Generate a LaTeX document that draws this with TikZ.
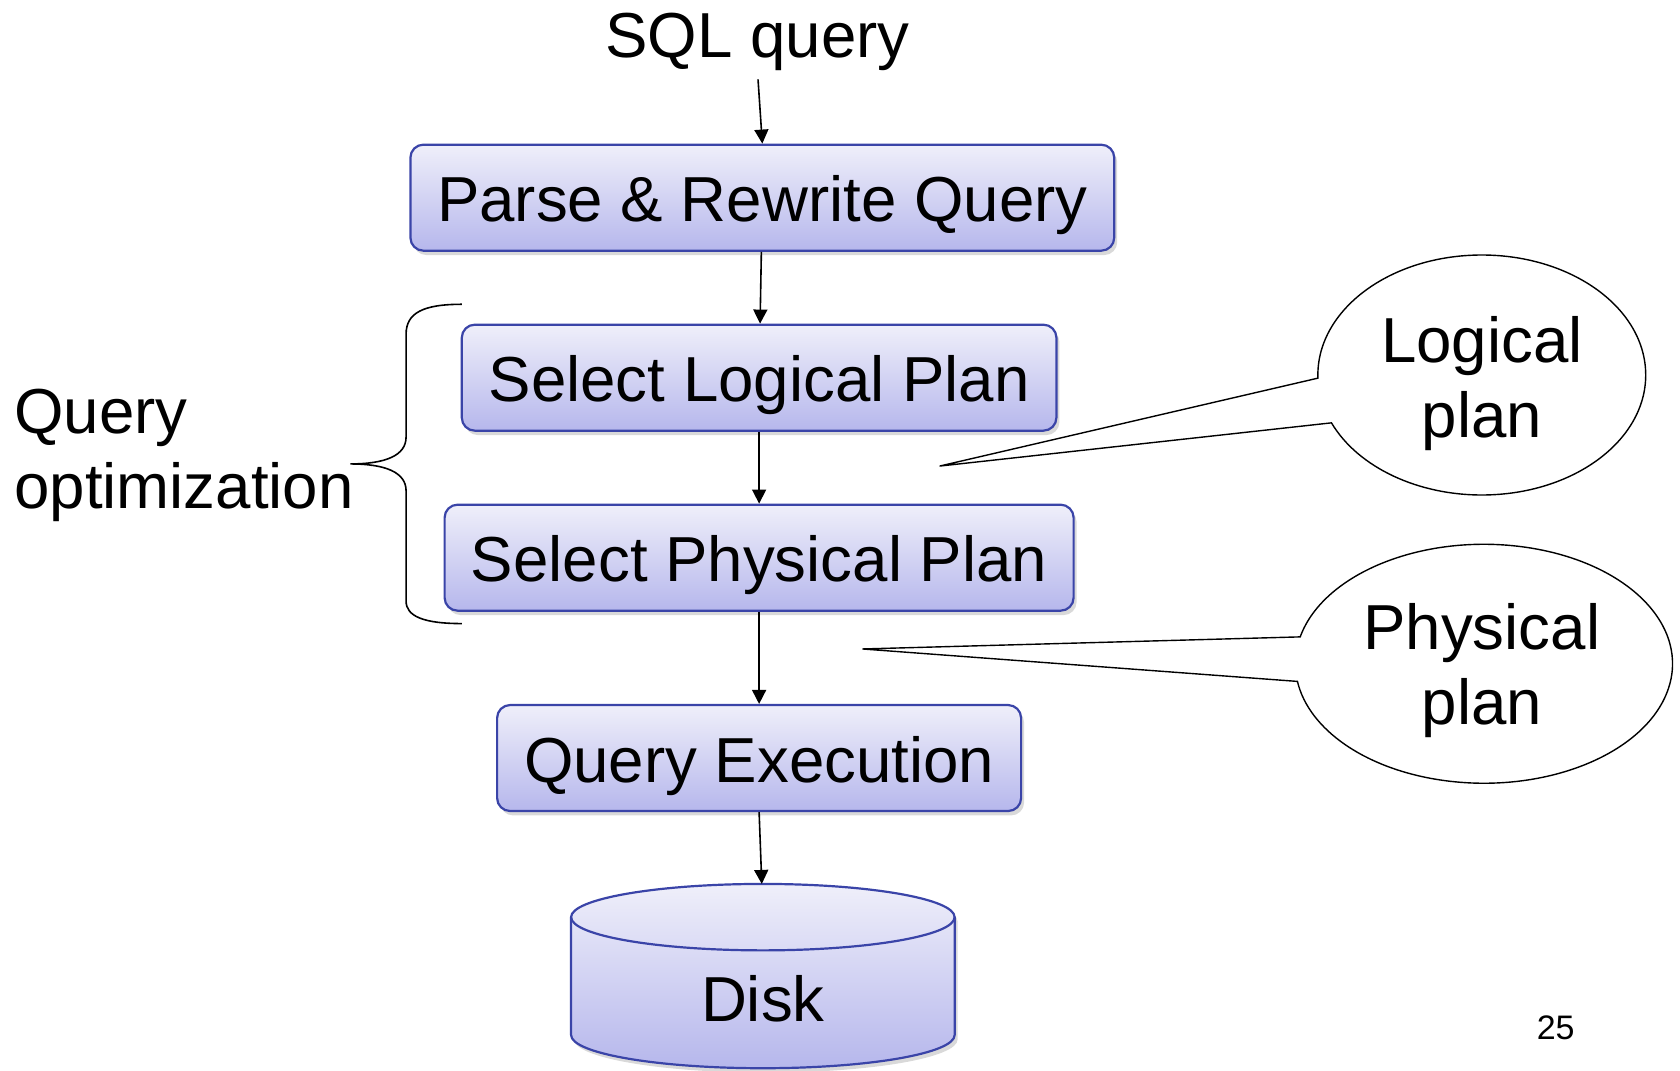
\documentclass[tikz,border=0pt]{standalone}
\usepackage{fontspec}
\setmainfont{Liberation Sans}
\usetikzlibrary{arrows.meta,shadows,calc}
\definecolor{bordc}{HTML}{3A44A8}
\definecolor{topc}{HTML}{EFEFFA}
\definecolor{botc}{HTML}{B6B7EC}
\begin{document}
\begin{tikzpicture}[x=0.5357pt,y=-0.5357pt,
  txt/.style={font=\fontsize{31.8}{37.5}\selectfont, inner sep=0pt},
  stepbox/.style={draw=bordc, line width=1.1pt, rounded corners=6.5pt,
    top color=topc, bottom color=botc, minimum height=53pt, inner sep=0pt,
    text height=30pt, text depth=6pt,
    font=\fontsize{31.8}{37.5}\selectfont,
    drop shadow={shadow xshift=1.5pt, shadow yshift=-2.2pt, opacity=0.3}},
  arr/.style={-{Triangle[length=7pt,width=7pt]}, line width=0.8pt},
  callout/.style={draw, line width=0.7pt, fill=white},
  brace/.style={line width=0.8pt}]
\useasboundingbox (0,0) rectangle (1568,998.7);

% title
\node[txt, anchor=base] (sql) at (707,54) {SQL query};

% steps
\node[stepbox, minimum width=351.9pt] (p)  at (711.5,184.5) {Parse \& Rewrite Query};
\node[stepbox, minimum width=297.3pt] (l)  at (708.5,352.5) {Select Logical Plan};
\node[stepbox, minimum width=314.5pt] (ph) at (708.5,520.5) {Select Physical Plan};
\node[stepbox, minimum width=262pt]   (q)  at (708.5,707.5) {Query Execution};

% disk
\path[draw=bordc, line width=1.1pt, top color=topc, bottom color=botc,
  drop shadow={shadow xshift=1.5pt, shadow yshift=-2.2pt, opacity=0.3}]
  (533,856) -- (533,966) arc[start angle=180, end angle=0, x radius=179, y radius=31]
  -- (891,856) arc[start angle=0, end angle=-180, x radius=179, y radius=31] -- cycle;
\draw[bordc, line width=1.1pt] (533,856) arc[start angle=180, end angle=0, x radius=179, y radius=31];
\coordinate (disktop) at (711,825);
\node[txt] (disk) at (712,932) {Disk};

% arrows
\draw[arr, shorten <=4pt] (sql.south) -- (p.north);
\draw[arr] (p) -- (l);
\draw[arr] (l) -- (ph);
\draw[arr] (ph) -- (q);
\draw[arr] (q.south) -- (disktop);

% brace
\draw[brace] (431,284) .. controls (395,284) and (379,292) .. (379,312) -- (379,408)
  .. controls (379,425) and (360,433) .. (327,433)
  .. controls (360,433) and (379,441) .. (379,458) -- (379,561)
  .. controls (379,575) and (395,582) .. (431,582);
\node[txt, anchor=west, align=left] (qo) at (13,424.6) {Query\\optimization};

% callouts
\coordinate (ltip) at (877,435);
\draw[callout] ($(1383,350)+(178.5:153 and 112)$)
  arc[start angle=178.5, end angle=516.5, x radius=153, y radius=112] -- (ltip) -- cycle;
\node[txt, align=center] (lp) at (1383,357.6) {Logical\\plan};

\coordinate (ptip) at (805,605.7);
\draw[callout] ($(1385,619.5)+(193:176 and 111.5)$)
  arc[start angle=193, end angle=531.5, x radius=176, y radius=111.5] -- (ptip) -- cycle;
\node[txt, align=center] (pp) at (1383,626) {Physical\\plan};

% page number
\node[inner sep=0pt, anchor=base, font=\fontsize{17}{20}\selectfont] (pg) at (1452,970) {25};
\end{tikzpicture}
\end{document}
